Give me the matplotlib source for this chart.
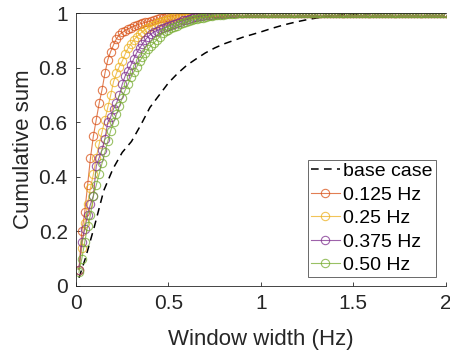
import numpy as np
import matplotlib.pyplot as plt

plt.rcParams['font.family'] = ['Liberation Sans', 'DejaVu Sans']

# window widths sampled every 1/64 Hz
window = np.arange(1, 129) / 64

base_x = [0.016, 0.05, 0.1, 0.15, 0.2, 0.25, 0.3, 0.35, 0.4, 0.45, 0.5,
          0.55, 0.6, 0.65, 0.7, 0.75, 0.8, 0.85, 0.9, 0.95, 1.0,
          1.05, 1.1, 1.15, 1.2, 1.25, 1.3, 1.35, 1.4, 1.45, 1.5,
          1.55, 1.6, 1.65, 1.7, 1.75, 1.8, 1.85, 1.9, 1.95, 2.0]
base_y = [0.03, 0.10, 0.22, 0.35, 0.43, 0.49, 0.53, 0.59, 0.655, 0.70, 0.745,
          0.78, 0.81, 0.833, 0.855, 0.873, 0.888, 0.90, 0.912, 0.922, 0.932,
          0.943, 0.953, 0.962, 0.970, 0.977, 0.983, 0.988, 0.992, 0.995, 0.997,
          0.998, 0.999, 1, 1, 1, 1, 1, 1, 1, 1]

y_0125 = [0.06, 0.20, 0.27, 0.37, 0.47, 0.55, 0.61, 0.67, 0.72, 0.78, 0.83, 0.86, 0.885, 0.907, 0.922, 0.93,
          0.937, 0.943, 0.948, 0.953, 0.957, 0.961, 0.964, 0.967, 0.970, 0.973, 0.976, 0.979, 0.982, 0.984, 0.986, 0.988,
          0.990, 0.992, 0.994, 0.995, 0.996, 0.997, 0.998, 0.999, 1, 1, 1, 1, 1, 1, 1, 1,
          1, 1, 1, 1, 1, 1, 1, 1, 1, 1, 1, 1, 1, 1, 1, 1,
          1, 1, 1, 1, 1, 1, 1, 1, 1, 1, 1, 1, 1, 1, 1, 1,
          1, 1, 1, 1, 1, 1, 1, 1, 1, 1, 1, 1, 1, 1, 1, 1,
          1, 1, 1, 1, 1, 1, 1, 1, 1, 1, 1, 1, 1, 1, 1, 1,
          1, 1, 1, 1, 1, 1, 1, 1, 1, 1, 1, 1, 1, 1, 1, 1]

y_025 = [0.06, 0.14, 0.23, 0.30, 0.36, 0.41, 0.47, 0.52, 0.565, 0.61, 0.655, 0.70, 0.75, 0.78, 0.805, 0.825,
         0.85, 0.872, 0.888, 0.902, 0.914, 0.924, 0.933, 0.941, 0.948, 0.953, 0.958, 0.963, 0.968, 0.973, 0.977, 0.981,
         0.984, 0.987, 0.989, 0.991, 0.993, 0.995, 0.996, 0.997, 0.998, 0.999, 1, 1, 1, 1, 1, 1,
         1, 1, 1, 1, 1, 1, 1, 1, 1, 1, 1, 1, 1, 1, 1, 1,
         1, 1, 1, 1, 1, 1, 1, 1, 1, 1, 1, 1, 1, 1, 1, 1,
         1, 1, 1, 1, 1, 1, 1, 1, 1, 1, 1, 1, 1, 1, 1, 1,
         1, 1, 1, 1, 1, 1, 1, 1, 1, 1, 1, 1, 1, 1, 1, 1,
         1, 1, 1, 1, 1, 1, 1, 1, 1, 1, 1, 1, 1, 1, 1, 1]

y_0375 = [0.06, 0.16, 0.21, 0.26, 0.30, 0.33, 0.44, 0.47, 0.50, 0.54, 0.60, 0.62, 0.65, 0.67, 0.70, 0.74,
          0.77, 0.79, 0.81, 0.833, 0.855, 0.872, 0.888, 0.903, 0.915, 0.925, 0.932, 0.937, 0.941, 0.945, 0.950, 0.954,
          0.958, 0.962, 0.966, 0.970, 0.974, 0.977, 0.980, 0.983, 0.986, 0.988, 0.990, 0.992, 0.993, 0.995, 0.996, 0.997,
          0.998, 0.998, 0.999, 0.999, 1, 1, 1, 1, 1, 1, 1, 1, 1, 1, 1, 1,
          1, 1, 1, 1, 1, 1, 1, 1, 1, 1, 1, 1, 1, 1, 1, 1,
          1, 1, 1, 1, 1, 1, 1, 1, 1, 1, 1, 1, 1, 1, 1, 1,
          1, 1, 1, 1, 1, 1, 1, 1, 1, 1, 1, 1, 1, 1, 1, 1,
          1, 1, 1, 1, 1, 1, 1, 1, 1, 1, 1, 1, 1, 1, 1, 1]

y_050 = [0.05, 0.10, 0.16, 0.22, 0.26, 0.33, 0.37, 0.41, 0.45, 0.49, 0.53, 0.57, 0.60, 0.63, 0.66, 0.69,
         0.718, 0.74, 0.765, 0.785, 0.803, 0.824, 0.840, 0.855, 0.869, 0.882, 0.892, 0.903, 0.915, 0.927, 0.934, 0.940,
         0.945, 0.950, 0.955, 0.960, 0.964, 0.968, 0.972, 0.975, 0.978, 0.981, 0.983, 0.985, 0.987, 0.989, 0.991, 0.993,
         0.994, 0.995, 0.996, 0.997, 0.998, 0.999, 0.999, 1, 1, 1, 1, 1, 1, 1, 1, 1,
         1, 1, 1, 1, 1, 1, 1, 1, 1, 1, 1, 1, 1, 1, 1, 1,
         1, 1, 1, 1, 1, 1, 1, 1, 1, 1, 1, 1, 1, 1, 1, 1,
         1, 1, 1, 1, 1, 1, 1, 1, 1, 1, 1, 1, 1, 1, 1, 1,
         1, 1, 1, 1, 1, 1, 1, 1, 1, 1, 1, 1, 1, 1, 1, 1]

series = {
    '0.125 Hz': (y_0125, '#D95319'),
    '0.25 Hz': (y_025, '#EDB120'),
    '0.375 Hz': (y_0375, '#7E2F8E'),
    '0.50 Hz': (y_050, '#77AC30'),
}

fig = plt.figure(figsize=(4.5, 3.53), dpi=100)
ax = fig.add_axes([0.169, 0.19, 0.821, 0.772])

ax.plot(base_x, base_y, '--', color='black', linewidth=1.1, dashes=(5, 3.5),
        label='base case')
for nome, (valores, cor) in series.items():
    ax.plot(window, valores, '-o', color=cor, alpha=0.75, linewidth=0.8,
            markersize=6, markerfacecolor='none', markeredgewidth=0.8,
            label=nome)

ax.set_xlim(0, 2)
ax.set_ylim(0, 1)
ax.set_xticks([0, 0.5, 1, 1.5, 2])
ax.set_xticklabels(['0', '0.5', '1', '1.5', '2'])
ax.set_yticks([0, 0.2, 0.4, 0.6, 0.8, 1])
ax.set_yticklabels(['0', '0.2', '0.4', '0.6', '0.8', '1'])

cinza = '#262626'
ax.tick_params(direction='in', length=3, width=0.6, colors=cinza,
               labelsize=15, top=False, right=False, pad=6)
for lado in ['left', 'bottom', 'top']:
    ax.spines[lado].set_color(cinza)
    ax.spines[lado].set_linewidth(0.6)
ax.spines['right'].set_visible(False)

ax.set_xlabel('Window width (Hz)', fontsize=16, color=cinza, labelpad=11)
ax.set_ylabel('Cumulative sum', fontsize=16, color=cinza, labelpad=3)

leg = ax.legend(loc='lower right', bbox_to_anchor=(0.974, 0.033),
                borderaxespad=0, fontsize=14, fancybox=False,
                handlelength=1.45, handletextpad=0.2, labelspacing=0.3,
                borderpad=0.15)
leg.get_frame().set_edgecolor(cinza)
leg.get_frame().set_linewidth(0.6)
for t in leg.get_texts():
    t.set_color('black')

plt.savefig('out.png', dpi=100)
plt.close()
